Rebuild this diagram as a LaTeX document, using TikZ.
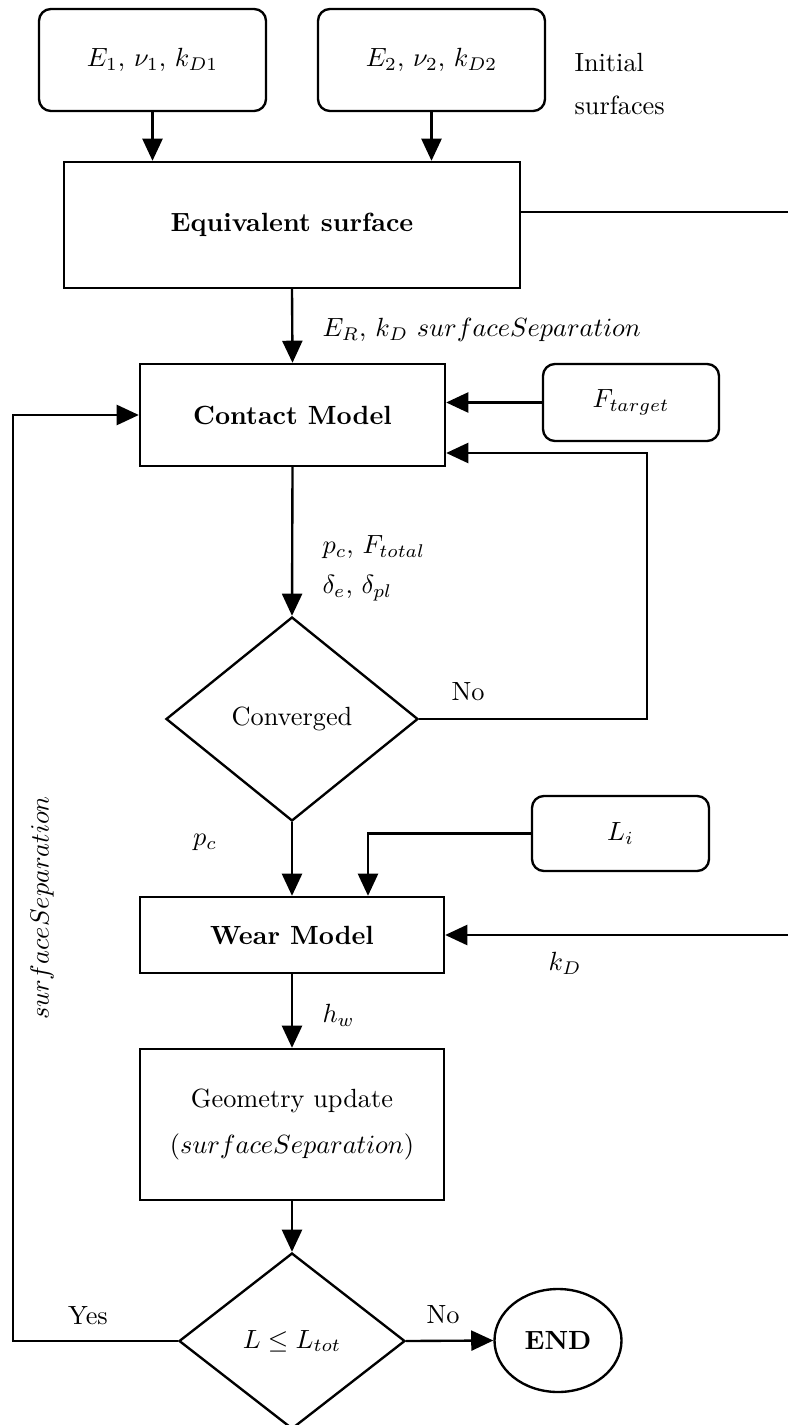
\documentclass[tikz,border=0pt]{standalone}
\usetikzlibrary{arrows.meta,shapes.geometric}
\tikzset{
  box/.style={draw, line width=0.9pt, rectangle, inner sep=0pt, align=center},
  rbox/.style={box, rounded corners=4.5pt},
  dia/.style={draw, line width=0.9pt, diamond, inner sep=0pt},
  arr/.style={line width=0.9pt, -{Triangle[length=8.4pt,width=7.6pt]}},
  ln/.style={line width=0.9pt},
  lbl/.style={inner sep=0pt},
}
\begin{document}
\begin{tikzpicture}[x=0.38pt,y=-0.38pt]
\useasboundingbox (0,0) rectangle (788,1425);
% nodes
\node[rbox, minimum width=86.26pt, minimum height=38.76pt] (b1) at (152.5,60) {$E_1$, $\nu_1$, $k_{D1}$};
\node[rbox, minimum width=86.26pt, minimum height=38.76pt] (b2) at (431.5,60) {$E_2$, $\nu_2$, $k_{D2}$};
\node[lbl, anchor=west] (ini1) at (574,63) {Initial};
\node[lbl, anchor=west] (ini2) at (574,105) {surfaces};
\node[box, minimum width=173.28pt, minimum height=47.88pt] (eq) at (292,225) {\textbf{Equivalent surface}};
\node[box, minimum width=115.9pt, minimum height=38.76pt] (cm) at (292.5,415) {\textbf{Contact Model}};
\node[rbox, minimum width=66.88pt, minimum height=29.26pt] (ft) at (631,402.5) {$F_{target}$};
\node[dia, minimum width=95.76pt, minimum height=77.52pt] (cv) at (292,719) {Converged};
\node[rbox, minimum width=67.26pt, minimum height=28.5pt] (li) at (620.5,833.5) {$L_i$};
\node[box, minimum width=115.52pt, minimum height=28.88pt] (wm) at (292,935) {\textbf{Wear Model}};
\node[box, minimum width=115.52pt, minimum height=57.38pt] (gu) at (292,1124.5) {Geometry update\\[5.5pt]($surfaceSeparation$)};
\node[dia, minimum width=85.88pt, minimum height=66.88pt] (dc) at (292,1341) {$L \leq L_{tot}$};
\node[draw, line width=0.9pt, ellipse, inner sep=0pt, minimum width=48.26pt, minimum height=39.14pt] (en) at (558,1340.5) {\textbf{END}};
% coordinates
\coordinate (eqr) at (788,212);
\coordinate (fb) at (647,453);
\coordinate (lic) at (368,833.5);
\coordinate (kdr) at (788,935);
\coordinate (lp) at (13,415);
% connectors
\draw[arr] (b1.south) -- (b1.south |- eq.north);
\draw[arr] (b2.south) -- (b2.south |- eq.north);
\draw[ln] (eqr -| eq.east) -- (eqr);
\draw[arr] (eq.south) -- (cm.north);
\draw[arr] (ft.west) -- (ft.west -| cm.east);
\draw[arr] (cv.east) -| (fb) -- (fb -| cm.east);
\draw[arr] (cm.south) -- (cv.north);
\draw[arr] (cv.south) -- (wm.north);
\draw[arr] (li.west) -- (lic) -- (lic |- wm.north);
\draw[arr] (kdr) -- (wm.east);
\draw[arr] (wm.south) -- (gu.north);
\draw[arr] (gu.south) -- (dc.north);
\draw[arr] (dc.west) -| (lp) -- (cm.west);
\draw[arr] (dc.east) -- (en.west);
% labels
\node[lbl, anchor=west] (l1) at (322,330) {$E_R$, $k_D$ $surfaceSeparation$};
\node[lbl, anchor=west] (l2) at (322,547) {$p_c$, $F_{total}$};
\node[lbl, anchor=west] (l3) at (322,588) {$\delta_e$, $\delta_{pl}$};
\node[lbl] (l4) at (468,692) {No};
\node[lbl] (l5) at (205,842) {$p_c$};
\node[lbl] (l6) at (565,963) {$k_D$};
\node[lbl, anchor=west] (l7) at (322,1015) {$h_w$};
\node[lbl] (l8) at (88,1316) {Yes};
\node[lbl] (l9) at (443,1315) {No};
\node[lbl, rotate=90] (l10) at (42,908) {$surfaceSeparation$};
\end{tikzpicture}
\end{document}
